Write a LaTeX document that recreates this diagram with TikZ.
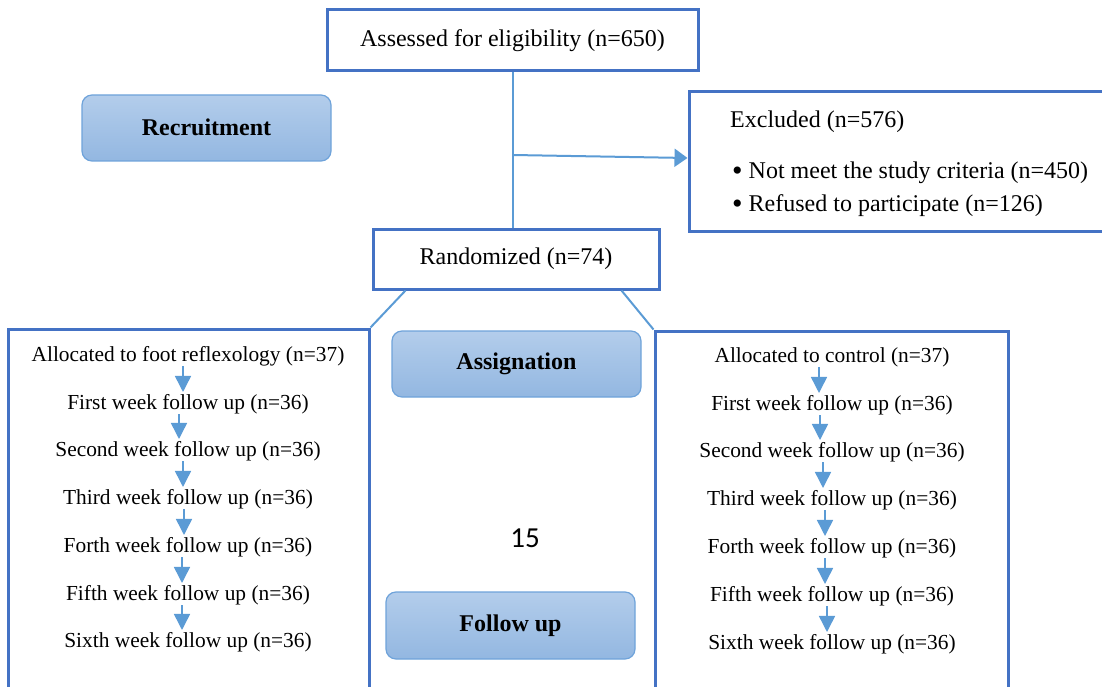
\documentclass[tikz,border=0pt]{standalone}
\usepackage{fontspec}
\setmainfont{Liberation Serif}
\newfontfamily\calfont{Carlito}
\usetikzlibrary{arrows.meta,calc}
\definecolor{boxblue}{HTML}{4472C4}
\definecolor{lineblue}{HTML}{5B9BD5}
\definecolor{fillTop}{HTML}{B3CDEB}
\definecolor{fillBot}{HTML}{93B7E1}
\definecolor{lblborder}{HTML}{6FA3DA}
\newcommand{\bigbul}{\raisebox{-1.5pt}{\fontsize{30}{30}\selectfont\textbullet}\hspace{6pt}}
\tikzset{
  box/.style={draw=boxblue, line width=3pt, fill=white, inner sep=0pt},
  lbl/.style={draw=lblborder, line width=1.2pt, rounded corners=10pt, top color=fillTop, bottom color=fillBot, font=\bfseries\fontsize{24}{28}\selectfont, inner sep=0pt},
  txt/.style={font=\fontsize{24}{28}\selectfont, inner sep=0pt},
  ctxt/.style={font=\fontsize{21.4}{25}\selectfont, inner sep=0pt},
  conn/.style={draw=lineblue, line width=2pt},
  arr/.style={lineblue, line width=1.5pt, -{Triangle[width=16pt,length=16pt]}, shorten <=0pt, shorten >=2pt},
}
\begin{document}
\begin{tikzpicture}[x=1pt,y=-1pt]
\useasboundingbox (0,0) rectangle (1102,687);
\clip (0,0) rectangle (1102,687);

% boxes
\node[box, minimum width=371pt, minimum height=61pt] (assessed) at (512.5,40.5) {};
\node[box, minimum width=441pt, minimum height=139pt] (excluded) at (909.5,161.5) {};
\node[box, minimum width=286pt, minimum height=60pt] (random) at (516,259) {};
\node[box, minimum width=361pt, minimum height=400pt] (leftgrp) at (188.5,529) {};
\node[box, minimum width=353pt, minimum height=400pt] (rightgrp) at (831.5,531) {};

% connectors
\draw[conn] (assessed.south) -- (assessed.south |- random.north);
\coordinate (j) at (513,155);
\draw[conn, -{Triangle[width=18pt,length=13pt]}] (j) -- ($(excluded.west)+(0,-3.5)$);
\draw[conn] ([xshift=34pt]random.south west) -- (leftgrp.north east);
\draw[conn] ([xshift=-39pt]random.south east) -- (rightgrp.north west);

% labels
\node[lbl, minimum width=249pt, minimum height=66pt] (recruit) at (206.5,128) {\raisebox{2pt}{Recruitment}};
\node[lbl, minimum width=249pt, minimum height=66pt] (assign) at (516.5,364) {\raisebox{2pt}{Assignation}};
\node[lbl, minimum width=249pt, minimum height=67pt] (follow) at (510.5,625.5) {\raisebox{2pt}{Follow up}};
\node[inner sep=0pt, font=\calfont\fontsize{29}{32}\selectfont] (pg) at (525,538) {15};

% texts top
\node[txt] (tassessed) at (assessed.center) {Assessed for eligibility (n=650)};
\node[txt] (trandom) at (random.center) {Randomized (n=74)};
\node[txt, anchor=west] (texcl) at (730,122) {Excluded (n=576)};
\node[txt, anchor=west] (b1) at (732,173) {\bigbul Not meet the study criteria (n=450)};
\node[txt, anchor=west] (b2) at (732,206) {\bigbul Refused to participate (n=126)};

% left column
\node[ctxt] (l0) at (188,356) {Allocated to foot reflexology (n=37)};
\node[ctxt] (l1) at (188,404) {First week follow up (n=36)};
\node[ctxt] (l2) at (188,451) {Second week follow up (n=36)};
\node[ctxt] (l3) at (188,499) {Third week follow up (n=36)};
\node[ctxt] (l4) at (188,547) {Forth week follow up (n=36)};
\node[ctxt] (l5) at (188,595) {Fifth week follow up (n=36)};
\node[ctxt] (l6) at (188,642) {Sixth week follow up (n=36)};
\draw[arr] ([xshift=-5pt]l0.south) -- ([xshift=-5pt]l1.north);
\draw[arr] ([xshift=-9pt]l1.south) -- ([xshift=-9pt]l2.north);
\draw[arr] ([xshift=-5pt]l2.south) -- ([xshift=-5pt]l3.north);
\draw[arr] ([xshift=-4pt]l3.south) -- ([xshift=-4pt]l4.north);
\draw[arr] ([xshift=-6pt]l4.south) -- ([xshift=-6pt]l5.north);
\draw[arr] ([xshift=-6pt]l5.south) -- ([xshift=-6pt]l6.north);

% right column
\node[ctxt] (r0) at (832,357) {Allocated to control (n=37)};
\node[ctxt] (r1) at (832,405) {First week follow up (n=36)};
\node[ctxt] (r2) at (832,452) {Second week follow up (n=36)};
\node[ctxt] (r3) at (832,500) {Third week follow up (n=36)};
\node[ctxt] (r4) at (832,548) {Forth week follow up (n=36)};
\node[ctxt] (r5) at (832,596) {Fifth week follow up (n=36)};
\node[ctxt] (r6) at (832,644) {Sixth week follow up (n=36)};
\draw[arr] ([xshift=-13pt]r0.south) -- ([xshift=-13pt]r1.north);
\draw[arr] ([xshift=-12pt]r1.south) -- ([xshift=-12pt]r2.north);
\draw[arr] ([xshift=-9pt]r2.south) -- ([xshift=-9pt]r3.north);
\draw[arr] ([xshift=-7pt]r3.south) -- ([xshift=-7pt]r4.north);
\draw[arr] ([xshift=-7pt]r4.south) -- ([xshift=-7pt]r5.north);
\draw[arr] ([xshift=-5pt]r5.south) -- ([xshift=-5pt]r6.north);
\end{tikzpicture}
\end{document}
